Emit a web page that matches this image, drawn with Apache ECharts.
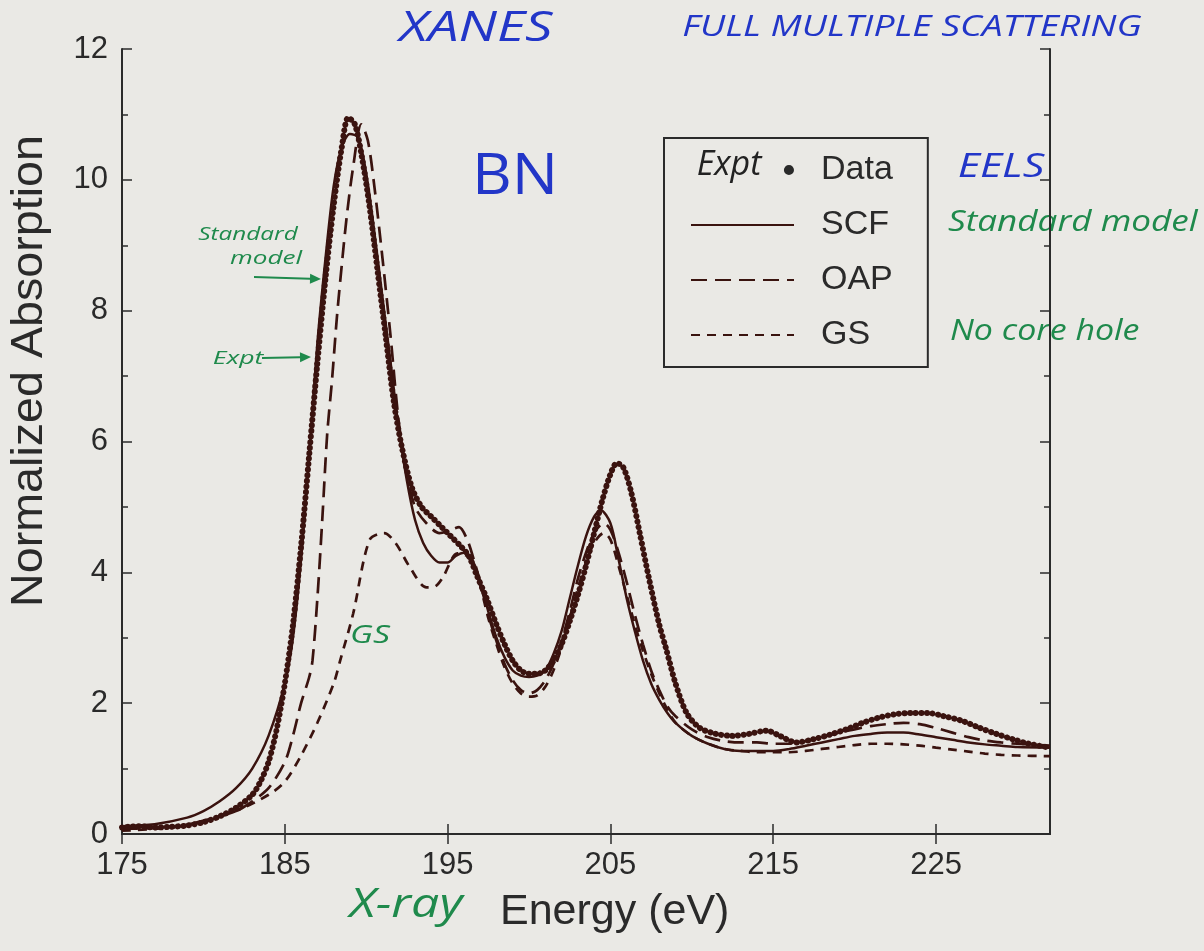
<!DOCTYPE html>
<html>
<head>
<meta charset="utf-8">
<title>BN XANES</title>
<script src="https://cdn.jsdelivr.net/npm/echarts@6/dist/echarts.min.js"></script>
<style>
  html, body { margin: 0; padding: 0; background: #eae9e5; }
  #chart { width: 1204px; height: 951px; }
</style>
</head>
<body>
<div id="chart"></div>
<script>
// Boron K-edge absorption of BN: experiment vs. three calculations.
const exptE = [175, 176, 177, 178, 179, 180, 181, 182, 183, 183.5, 184, 184.5, 185, 185.5, 186, 186.5, 187, 187.5, 188, 188.5, 188.9, 189.3, 189.7, 190.2, 190.7, 191.2, 191.7, 192.2, 192.8, 193.4, 194, 194.6, 195.2, 195.8, 196.3, 196.8, 197.4, 198, 198.5, 199, 199.5, 200, 200.5, 201, 201.5, 202, 202.5, 203, 203.5, 204, 204.5, 205, 205.4, 205.8, 206.3, 206.8, 207.4, 208, 208.4, 209, 209.7, 210.5, 211.5, 212.5, 213.5, 214.6, 215.4, 216.4, 217.5, 218.5, 219.5, 220.5, 221.5, 222.5, 223.5, 224.5, 225.5, 226.6, 227.6, 228.7, 229.7, 230.7, 232];
const exptV = [0.10, 0.12, 0.10, 0.11, 0.13, 0.18, 0.27, 0.40, 0.60, 0.80, 1.10, 1.60, 2.30, 3.20, 4.40, 5.80, 7.20, 8.50, 9.60, 10.50, 10.95, 10.85, 10.40, 9.60, 8.60, 7.60, 6.60, 5.90, 5.30, 5.00, 4.85, 4.70, 4.55, 4.40, 4.25, 3.95, 3.60, 3.20, 2.90, 2.65, 2.50, 2.45, 2.45, 2.50, 2.65, 2.90, 3.25, 3.65, 4.10, 4.60, 5.10, 5.50, 5.67, 5.60, 5.20, 4.60, 3.87, 3.20, 2.85, 2.30, 1.84, 1.62, 1.53, 1.50, 1.53, 1.58, 1.50, 1.40, 1.45, 1.52, 1.60, 1.70, 1.78, 1.83, 1.85, 1.85, 1.80, 1.73, 1.63, 1.53, 1.45, 1.38, 1.32];

const scfE = [175, 177, 179, 180, 181, 182, 183, 184, 185, 185.5, 186, 186.5, 187, 187.5, 188, 188.5, 189, 189.5, 190, 190.5, 191, 191.5, 192, 192.5, 193, 193.5, 194, 194.5, 195, 195.5, 196, 196.5, 197, 197.5, 198, 198.5, 199, 199.5, 200, 200.5, 201, 201.5, 202, 202.5, 203, 203.5, 204, 204.4, 205, 205.5, 206, 206.5, 207, 207.5, 208, 208.5, 209, 210, 211, 212, 213, 214, 215, 216, 217, 218, 219, 220, 221, 222, 223, 224, 225, 226, 227, 228, 229, 230, 232];
const scfV = [0.12, 0.15, 0.25, 0.35, 0.50, 0.70, 1.00, 1.50, 2.30, 3.00, 4.20, 5.80, 7.50, 8.80, 9.90, 10.50, 10.70, 10.65, 10.10, 9.20, 8.20, 7.20, 6.20, 5.40, 4.80, 4.45, 4.25, 4.15, 4.15, 4.25, 4.30, 4.20, 3.85, 3.40, 3.00, 2.70, 2.50, 2.42, 2.40, 2.42, 2.50, 2.75, 3.10, 3.60, 4.10, 4.55, 4.85, 4.95, 4.75, 4.20, 3.60, 3.10, 2.65, 2.30, 2.05, 1.85, 1.70, 1.50, 1.38, 1.30, 1.27, 1.27, 1.27, 1.30, 1.35, 1.40, 1.45, 1.50, 1.53, 1.55, 1.55, 1.52, 1.48, 1.44, 1.40, 1.37, 1.35, 1.33, 1.32];

const oapE = [175, 178, 180, 182, 183, 184, 185, 185.5, 186, 186.5, 186.7, 187, 187.3, 187.6, 187.9, 188.2, 188.5, 188.8, 189.2, 189.7, 190.1, 190.5, 191, 191.5, 192, 192.5, 193, 193.7, 194.5, 195.2, 195.7, 196.2, 196.6, 197, 197.5, 198, 198.5, 199, 199.5, 200, 200.5, 201, 201.5, 202, 202.5, 203, 203.5, 204, 204.6, 205, 205.5, 206, 206.5, 207, 207.5, 208, 208.5, 209, 210, 211, 212, 213, 214, 215, 216, 217, 218, 219, 220, 221, 222, 223, 224, 225, 226, 227, 228, 229, 230, 232];
const oapV = [0.08, 0.10, 0.20, 0.35, 0.50, 0.70, 1.10, 1.50, 2.00, 2.40, 2.65, 3.60, 4.80, 6.10, 6.94, 7.90, 8.70, 9.43, 10.20, 10.85, 10.60, 9.90, 8.80, 7.60, 6.30, 5.50, 5.00, 4.75, 4.60, 4.65, 4.69, 4.50, 4.20, 3.85, 3.35, 2.95, 2.60, 2.35, 2.20, 2.15, 2.20, 2.35, 2.60, 2.95, 3.40, 3.90, 4.30, 4.60, 4.75, 4.65, 4.30, 3.85, 3.35, 2.90, 2.50, 2.20, 1.95, 1.80, 1.60, 1.48, 1.42, 1.40, 1.40, 1.38, 1.38, 1.42, 1.48, 1.55, 1.60, 1.65, 1.68, 1.70, 1.68, 1.62, 1.55, 1.48, 1.43, 1.40, 1.38, 1.35];

const gsE = [175, 178, 180, 182, 184, 185, 186, 187, 188, 188.4, 189.2, 190.2, 191.1, 191.8, 192.7, 193.7, 194.2, 194.7, 195.6, 196.2, 196.6, 197, 197.5, 198, 198.5, 199, 199.5, 200, 200.5, 201, 201.5, 202, 202.5, 203, 203.5, 204, 204.6, 205, 205.5, 206, 206.5, 207, 207.5, 208, 208.5, 209, 210, 211, 212, 213, 214, 215, 216, 217, 218, 219, 220, 221, 222, 223, 224, 225, 226, 227, 228, 229, 230, 232];
const gsV = [0.05, 0.10, 0.20, 0.35, 0.60, 0.80, 1.20, 1.70, 2.30, 2.65, 3.37, 4.49, 4.60, 4.45, 4.07, 3.77, 3.78, 3.92, 4.29, 4.25, 4.10, 3.80, 3.30, 2.90, 2.55, 2.30, 2.15, 2.10, 2.12, 2.25, 2.50, 2.85, 3.30, 3.75, 4.15, 4.45, 4.60, 4.50, 4.10, 3.65, 3.20, 2.80, 2.45, 2.15, 1.90, 1.70, 1.50, 1.38, 1.30, 1.27, 1.25, 1.25, 1.25, 1.27, 1.30, 1.33, 1.36, 1.38, 1.38, 1.37, 1.35, 1.32, 1.29, 1.26, 1.23, 1.21, 1.20, 1.19];

const xTicks = [175, 185, 195, 205, 215, 225];
const legendNames = ['Data', 'SCF', 'OAP', 'GS'];

const ink = '#3a130f';
const frame = '#2b2b2b';
const textInk = '#2a2a2a';
const blue = '#2236c8';
const green = '#1f8a4c';
const hand = "'Open Sans', 'DejaVu Sans', sans-serif";
const print = "'Liberation Sans', Arial, sans-serif";

function pairs(xs, ys) { return xs.map((x, i) => [x, ys[i]]); }

// hand-written note helper: italic text, optionally stretched sideways
function note(text, x, y, size, color, opts) {
  opts = opts || {};
  return {
    type: 'text', x: x, y: y, scaleX: opts.sx || 1, scaleY: opts.sy || 1,
    style: {
      text: text, font: (opts.upright ? '' : 'italic ') + size + 'px ' + hand,
      fill: color, align: opts.align || 'center', verticalAlign: 'middle'
    }
  };
}

function arrow(x0, y0, x1, y1) {
  const ang = Math.atan2(y1 - y0, x1 - x0);
  const L = 11, W = 5;
  const bx = x1 - L * Math.cos(ang), by = y1 - L * Math.sin(ang);
  const px = -Math.sin(ang) * W, py = Math.cos(ang) * W;
  return [
    { type: 'polyline', shape: { points: [[x0, y0], [bx, by]] }, style: { stroke: green, lineWidth: 2, fill: null } },
    { type: 'polygon', shape: { points: [[x1, y1], [bx + px, by + py], [bx - px, by - py]] }, style: { fill: green } }
  ];
}

const chart = echarts.init(document.getElementById('chart'), null, { renderer: 'canvas' });

const axisLine = { show: true, lineStyle: { color: frame, width: 2 } };
const tickStyle = { color: frame, width: 1.5 };

// legend marker for the measured data: a single dot at the right end of the icon box
const dotIcon = 'path://M0,0h0.01v0.01h-0.01z M92,-5a5,5 0 1,0 10,0a5,5 0 1,0 -10,0z';

const option = {
  backgroundColor: '#eae9e5',
  animation: false,
  grid: { left: 122, right: 154, top: 49, bottom: 117 },
  xAxis: [
    {
      type: 'value', min: 175, max: 232, interval: 10, position: 'bottom',
      axisLine: axisLine,
      axisTick: { show: true, inside: true, length: 10, lineStyle: tickStyle, customValues: xTicks },
      axisLabel: { show: true, fontSize: 31, fontFamily: print, color: textInk, margin: 16, customValues: xTicks },
      splitLine: { show: false }
    },
    {
      type: 'value', min: 175, max: 232, interval: 10, position: 'top',
      axisLine: axisLine,
      axisTick: { show: true, inside: true, length: 10, lineStyle: tickStyle, customValues: xTicks },
      axisLabel: { show: false },
      splitLine: { show: false }
    }
  ],
  yAxis: [
    {
      type: 'value', min: 0, max: 12, interval: 2, position: 'left',
      axisLine: axisLine,
      axisTick: { show: true, inside: true, length: 10, lineStyle: tickStyle },
      minorTick: { show: true, splitNumber: 2, length: 6, lineStyle: tickStyle },
      axisLabel: { show: true, fontSize: 31, fontFamily: print, color: textInk, margin: 14 },
      splitLine: { show: false }
    },
    {
      type: 'value', min: 0, max: 12, interval: 2, position: 'right',
      axisLine: axisLine,
      axisTick: { show: true, inside: true, length: 10, lineStyle: tickStyle },
      minorTick: { show: true, splitNumber: 2, length: 6, lineStyle: tickStyle },
      axisLabel: { show: false },
      splitLine: { show: false }
    }
  ],
  legend: {
    orient: 'vertical', left: 664, top: 138,
    borderColor: frame, borderWidth: 2, borderRadius: 0,
    padding: [14, 35, 14, 26],
    itemWidth: 103, itemHeight: 16, itemGap: 19,
    itemStyle: { opacity: 0 },
    textStyle: { fontSize: 34, fontFamily: print, color: textInk, padding: [0, 0, 0, 22], lineHeight: 36 },
    selectedMode: false,
    data: [
      { name: legendNames[0], icon: dotIcon, itemStyle: { opacity: 1, color: textInk } },
      legendNames[1], legendNames[2], legendNames[3]
    ]
  },
  series: [
    {
      name: legendNames[3], type: 'line', data: pairs(gsE, gsV), smooth: 0.3,
      symbol: 'none', lineStyle: { color: ink, width: 2.7, type: [9, 7] }, itemStyle: { color: ink }
    },
    {
      name: legendNames[2], type: 'line', data: pairs(oapE, oapV), smooth: 0.3,
      symbol: 'none', lineStyle: { color: ink, width: 2.7, type: [16, 8] }, itemStyle: { color: ink }
    },
    {
      name: legendNames[1], type: 'line', data: pairs(scfE, scfV), smooth: 0.3,
      symbol: 'none', lineStyle: { color: ink, width: 2.5 }, itemStyle: { color: ink }
    },
    {
      name: legendNames[0], type: 'line', data: pairs(exptE, exptV), smooth: 0.3,
      symbol: 'none', lineStyle: { color: ink, width: 6, type: [0.1, 5.5], cap: 'round' }, itemStyle: { color: ink }
    }
  ],
  graphic: [
    // axis titles
    { type: 'text', x: 30, y: 371, rotation: Math.PI / 2, scaleX: 1.06,
      style: { text: 'Normalized Absorption', font: '44px ' + print, fill: textInk, align: 'center', verticalAlign: 'middle' } },
    { type: 'text', x: 500, y: 912,
      style: { text: 'Energy (eV)', font: '43px ' + print, fill: textInk, align: 'left', verticalAlign: 'middle' } },
    // hand-written notes
    note('XANES', 476, 29, 42, blue, { sx: 1.3 }),
    note('FULL MULTIPLE SCATTERING', 912, 27, 30, blue, { sx: 1.24 }),
    note('BN', 515, 178, 56, blue, { upright: true, sx: 1.1 }),
    note('EELS', 1001, 168, 33, blue, { sx: 1.3 }),
    note('Standard model', 948, 222, 30, green, { align: 'left', sx: 1.17 }),
    note('No core hole', 950, 332, 29, green, { align: 'left', sx: 1.17 }),
    note('Expt', 729, 165, 34, '#222', {}),
    note('Standard', 248, 235, 18, green, { sx: 1.35 }),
    note('model', 266, 259, 18, green, { sx: 1.45 }),
    note('Expt', 238, 359, 19, green, { sx: 1.4 }),
    note('GS', 370, 636, 26, green, { sx: 1.3 }),
    note('X-ray', 406, 906, 40, green, { sx: 1.25 })
  ].concat(arrow(254, 277, 321, 279), arrow(262, 358, 311, 357))
};

chart.setOption(option);
</script>
</body>
</html>
